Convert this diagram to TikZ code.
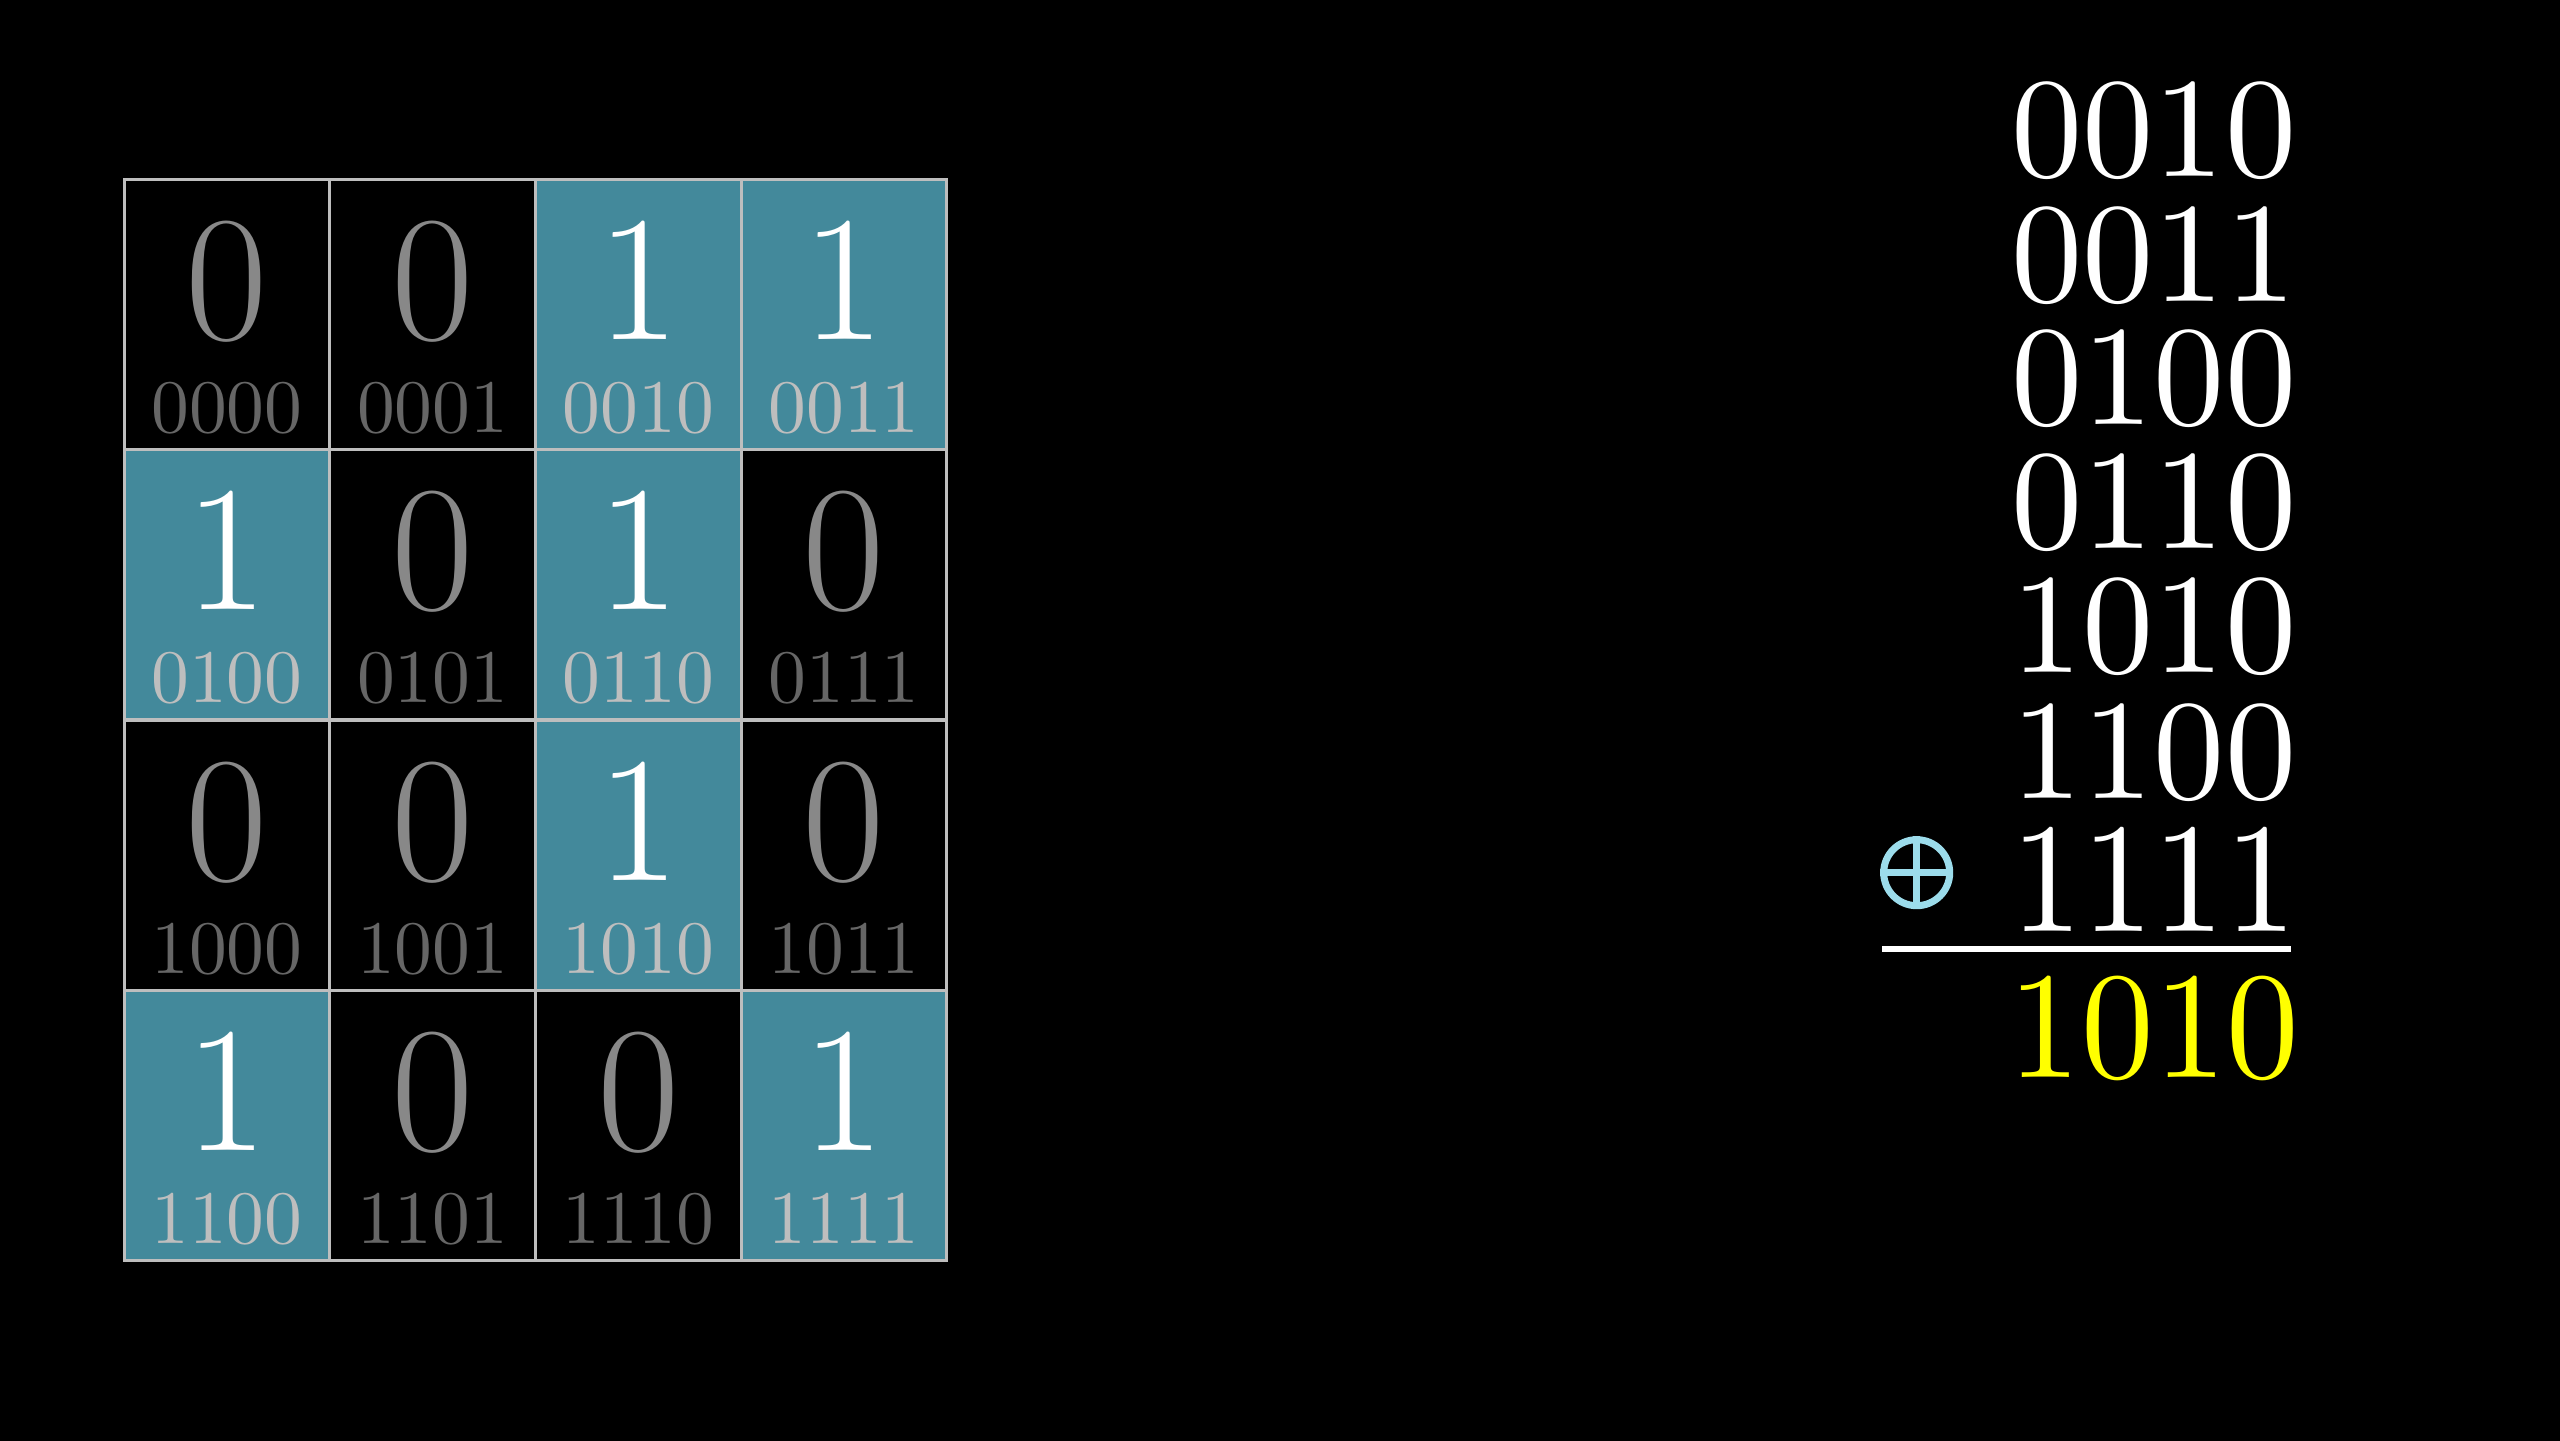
\documentclass[tikz,border=0pt]{standalone}
\usepackage{fontspec}
\setmainfont{lmroman10-regular.otf}
\newfontfamily\bigdigits{Latin Modern Roman}
\usepackage{xcolor}
\usetikzlibrary{positioning,calc}

\definecolor{tealcell}{RGB}{67,137,155}
\definecolor{gridline}{RGB}{190,190,190}
\definecolor{dimzero}{RGB}{136,136,136}
\definecolor{dimlabel}{RGB}{102,102,102}
\definecolor{litlabel}{RGB}{190,190,190}
\definecolor{xorblue}{RGB}{156,220,235}
\definecolor{result}{RGB}{255,255,0}

\tikzset{
  cell/.style={rectangle, draw=gridline, line width=0.9pt, inner sep=0pt,
    minimum width=2.057cm, minimum height=2.702cm},
  bit/.style={inner sep=0pt, anchor=base, font=\bigdigits\fontsize{51}{51}\selectfont},
  code/.style={inner sep=0pt, anchor=base, font=\fontsize{21.5}{21.5}\selectfont},
  row/.style={inner sep=0pt, anchor=base east, text=white, font=\fontsize{40.5}{40.5}\selectfont}
}

\begin{document}
\begin{tikzpicture}
\useasboundingbox (0,0) rectangle (25.6,14.4);
\fill[black] (-1,-1) rectangle (26.6,15.4);

% the 4x4 table
\foreach \r/\c/\v/\lbl in {0/0/0/0000,0/1/0/0001,0/2/1/0010,0/3/1/0011,
    1/0/1/0100,1/1/0/0101,1/2/1/0110,1/3/0/0111,
    2/0/0/1000,2/1/0/1001,2/2/1/1010,2/3/0/1011,
    3/0/1/1100,3/1/0/1101,3/2/0/1110,3/3/1/1111}{
  \ifnum\v=1
    \node[cell, fill=tealcell] (c\lbl) at ({1.241+2.057*(\c+0.5)},{12.604-2.702*(\r+0.5)}) {};
    \node[bit, text=white] (b\lbl) at ($(c\lbl.center)+(0,-0.25)$) {1};
    \node[code, text=litlabel] (l\lbl) at ($(c\lbl.center)+(0,-1.18)$) {\lbl};
  \else
    \node[cell, fill=black] (c\lbl) at ({1.241+2.057*(\c+0.5)},{12.604-2.702*(\r+0.5)}) {};
    \node[bit, text=dimzero] (b\lbl) at ($(c\lbl.center)+(0,-0.25)$) {0};
    \node[code, text=dimlabel] (l\lbl) at ($(c\lbl.center)+(0,-1.18)$) {\lbl};
  \fi
}

% the xor sum
\node[row] (r1) at (22.97,12.63) {0010};
\node[row] (r2) at (22.97,11.385) {0011};
\node[row] (r3) at (22.97,10.15) {0100};
\node[row] (r4) at (22.97,8.91) {0110};
\node[row] (r5) at (22.97,7.67) {1010};
\node[row] (r6) at (22.97,6.41) {1100};
\node[row, yscale=1.1] (r7) at (22.97,5.08) {1111};
\node[circle, draw=xorblue, line width=2pt, inner sep=0pt, minimum size=0.66cm] (xor) at (19.167,5.673) {};
\draw[xorblue, line width=2pt] (xor.north) -- (xor.south);
\draw[xorblue, line width=2pt] (xor.west) -- (xor.east);
\coordinate (barl) at (18.82,4.91);
\coordinate (barr) at (22.91,4.91);
\draw[white, line width=1.8pt] (barl) -- (barr);
\node[row, text=result, xscale=1.02, yscale=1.07] (sum) at (23.0,3.62) {1010};
\end{tikzpicture}
\end{document}
